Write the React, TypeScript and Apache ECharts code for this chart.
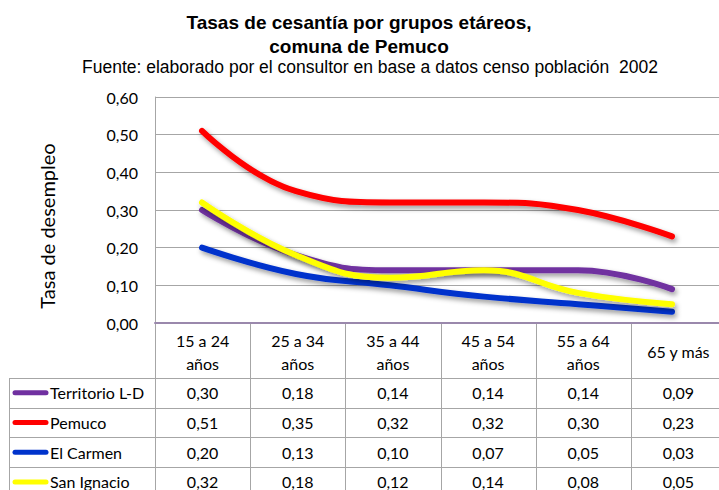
import React, { useEffect, useRef } from "react";
import * as echarts from "echarts";

// Age groups (x categories) and unemployment rates per territory
const categories = ["15 a 24 años", "25 a 34 años", "35 a 44 años", "45 a 54 años", "55 a 64 años", "65 y más"];
const seriesNames = ["Territorio L-D", "Pemuco", "El Carmen", "San Ignacio"];
const territorioLD = [0.30, 0.18, 0.14, 0.14, 0.14, 0.09];
const pemuco = [0.51, 0.35, 0.32, 0.32, 0.30, 0.23];
const elCarmen = [0.20, 0.13, 0.10, 0.07, 0.05, 0.03];
const sanIgnacio = [0.32, 0.18, 0.12, 0.14, 0.08, 0.05];
const seriesValues = [territorioLD, pemuco, elCarmen, sanIgnacio];
const seriesColors = ["#7030A0", "#FF0000", "#0033CC", "#FFFF00"];
const yTicks = { min: 0, max: 0.6, interval: 0.1 };

const titleText = "Tasas de cesantía por grupos etáreos,\ncomuna de Pemuco";
const subtitleText = "Fuente: elaborado por el consultor en base a datos censo población  2002";
const yAxisTitle = "Tasa de desempleo";

// Plot area and data table geometry
const GRID_LEFT = 155;
const GRID_TOP = 97;
const GRID_W = 571;
const GRID_H = 226;
const AXIS_Y = GRID_TOP + GRID_H;
const HEADER_BOTTOM = 378;
const ROW_H = 29.7;
const TABLE_LEFT = 9;
const TABLE_BOTTOM = 500;

const fmt = (v: number) => v.toFixed(2).replace(".", ",");
const FONT = "Lato, 'Open Sans', sans-serif";
const TITLE_FONT = "'Liberation Sans', Arial, sans-serif";
const GRID_COLOR = "#A6A6A6";

function buildTable(): any[] {
  const els: any[] = [];
  const colW = GRID_W / categories.length;
  const right = GRID_LEFT + GRID_W;
  const lineStyle = { stroke: GRID_COLOR, lineWidth: 1 };

  // vertical separators of the data columns
  for (let i = 0; i <= categories.length; i++) {
    const x = Math.round(GRID_LEFT + i * colW) + 0.5;
    els.push({ type: "line", shape: { x1: x, y1: AXIS_Y, x2: x, y2: TABLE_BOTTOM }, style: lineStyle, silent: true });
  }
  // legend column left border
  els.push({ type: "line", shape: { x1: TABLE_LEFT + 0.5, y1: HEADER_BOTTOM, x2: TABLE_LEFT + 0.5, y2: TABLE_BOTTOM }, style: lineStyle, silent: true });
  // horizontal row separators
  for (let r = 0; r < seriesNames.length; r++) {
    const y = Math.round(HEADER_BOTTOM + r * ROW_H) + 0.5;
    els.push({ type: "line", shape: { x1: TABLE_LEFT, y1: y, x2: right, y2: y }, style: lineStyle, silent: true });
  }
  // header cells
  categories.forEach((c, i) => {
    els.push({
      type: "text",
      x: GRID_LEFT + (i + 0.5) * colW,
      y: (AXIS_Y + HEADER_BOTTOM) / 2 + 1,
      style: {
        text: c.replace(" años", "\naños"),
        fill: "#000",
        font: `16px ${FONT}`,
        align: "center",
        verticalAlign: "middle",
        lineHeight: 23,
      },
      silent: true,
    });
  });
  // rows: legend key, name and values
  seriesNames.forEach((name, r) => {
    const cy = HEADER_BOTTOM + (r + 0.5) * ROW_H;
    els.push({
      type: "line",
      shape: { x1: 15, y1: cy, x2: 46, y2: cy },
      style: { stroke: seriesColors[r], lineWidth: 5, lineCap: "round" },
      silent: true,
    });
    els.push({
      type: "text",
      x: 50,
      y: cy,
      style: { text: name, fill: "#000", font: `16px ${FONT}`, align: "left", verticalAlign: "middle" },
      silent: true,
    });
    seriesValues[r].forEach((v, i) => {
      els.push({
        type: "text",
        x: GRID_LEFT + (i + 0.5) * colW,
        y: cy,
        style: { text: fmt(v), fill: "#000", font: `16px ${FONT}`, align: "center", verticalAlign: "middle" },
        silent: true,
      });
    });
  });
  // y axis title
  els.push({
    type: "text",
    x: 47,
    y: 226,
    rotation: Math.PI / 2,
    style: { text: yAxisTitle, fill: "#000", font: `20px ${FONT}`, align: "center", verticalAlign: "middle" },
    silent: true,
  });
  return els;
}

export default function App() {
  const ref = useRef<HTMLDivElement>(null);

  useEffect(() => {
    if (!ref.current) return;
    const chart = echarts.init(ref.current, null, { renderer: "svg" });
    chart.setOption({
      animation: false,
      backgroundColor: "#fff",
      title: [
        {
          text: titleText,
          left: 354,
          top: 5,
          textAlign: "center",
          textStyle: { fontFamily: TITLE_FONT, fontSize: 19, fontWeight: "bold", color: "#000", lineHeight: 24 },
        },
        {
          text: subtitleText,
          left: 365,
          top: 53,
          textAlign: "center",
          textStyle: { fontFamily: TITLE_FONT, fontSize: 17.5, fontWeight: "normal", color: "#000" },
        },
      ],
      grid: { left: GRID_LEFT, top: GRID_TOP, width: GRID_W, height: GRID_H },
      xAxis: {
        type: "category",
        data: categories,
        boundaryGap: true,
        axisLine: { show: true, lineStyle: { color: "#9A88AC", width: 2 } },
        axisTick: { show: false },
        axisLabel: { show: false },
        splitLine: { show: false },
      },
      yAxis: {
        type: "value",
        min: yTicks.min,
        max: yTicks.max,
        interval: yTicks.interval,
        axisLine: { show: true, lineStyle: { color: GRID_COLOR, width: 1 } },
        axisTick: { show: false },
        axisLabel: { formatter: (v: number) => fmt(v), fontFamily: FONT, fontSize: 16, color: "#000", margin: 17 },
        splitLine: { show: true, lineStyle: { color: GRID_COLOR, width: 1 } },
      },
      series: seriesNames.map((name, i) => ({
        name,
        type: "line",
        data: seriesValues[i],
        smooth: 0.45,
        showSymbol: false,
        symbol: "none",
        lineStyle: {
          color: seriesColors[i],
          width: 6,
          cap: "round",
          shadowColor: "rgba(0,0,0,0.4)",
          shadowBlur: 5,
          shadowOffsetX: 2,
          shadowOffsetY: 3,
        },
        itemStyle: { color: seriesColors[i] },
      })),
      graphic: buildTable(),
    });
    return () => chart.dispose();
  }, []);

  return <div ref={ref} style={{ width: 719, height: 490, position: "absolute", left: 0, top: 0 }} />;
}
